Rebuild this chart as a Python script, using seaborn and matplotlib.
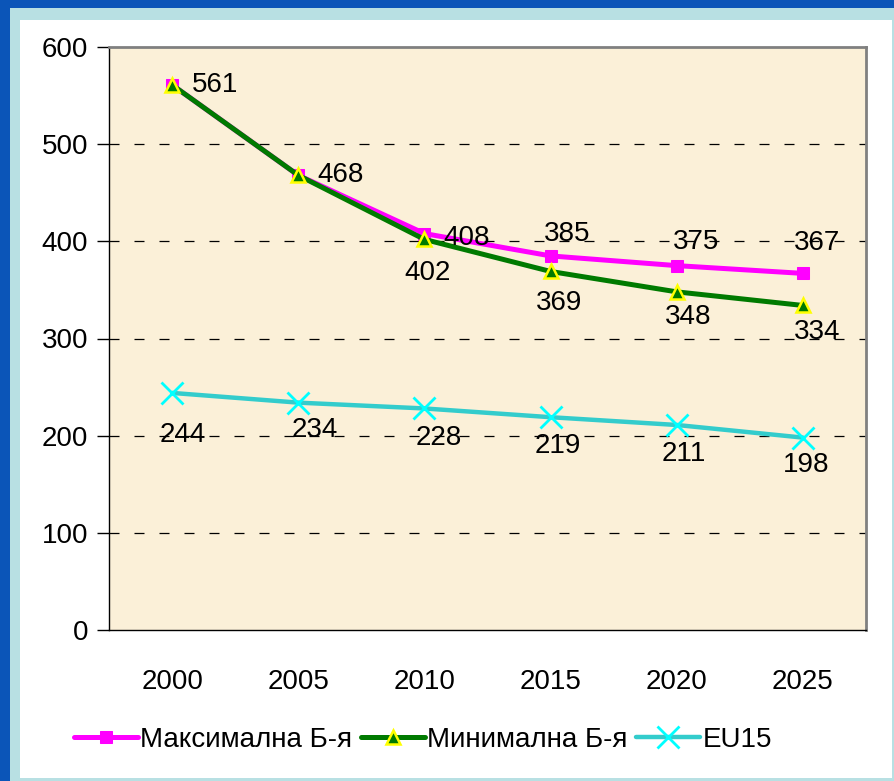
import matplotlib
matplotlib.use("Agg")
import matplotlib.pyplot as plt
import matplotlib.ticker as ticker
from matplotlib.patches import Rectangle
import seaborn as sns
import pandas as pd

# data
years = ["2000", "2005", "2010", "2015", "2020", "2025"]
max_vals = [561, 468, 408, 385, 375, 367]
min_vals = [561, 468, 402, 369, 348, 334]
eu15_vals = [244, 234, 228, 219, 211, 198]
series_names = ["Максимална Б-я", "Минимална Б-я", "EU15"]

sns.set_theme(style="white")
plt.rcParams['font.family'] = ['Liberation Sans', 'DejaVu Sans']
plt.rcParams['text.color'] = 'black'
plt.rcParams['xtick.color'] = 'black'
plt.rcParams['ytick.color'] = 'black'

FS = 20

W, H = 895, 781
fig = plt.figure(figsize=(W / 100, H / 100), dpi=100)
fig.patch.set_facecolor('#0b55b8')
# cyan frame and white panel
fig.add_artist(Rectangle((10 / W, 0), 1 - 10 / W, 1 - 8 / H, transform=fig.transFigure,
                         facecolor='#b8e0e3', edgecolor='none', zorder=0))
fig.add_artist(Rectangle((20 / W, 3 / H), 872 / W, 1 - 23 / H, transform=fig.transFigure,
                         facecolor='white', edgecolor='none', zorder=0))

ax = fig.add_axes([109 / W, 1 - 630 / H, 757 / W, 583 / H])
ax.set_facecolor('#fbf0d8')

df = pd.DataFrame({'Year': years, 'Max': max_vals, 'Min': min_vals, 'EU15': eu15_vals})

sns.lineplot(data=df, x='Year', y='Max', ax=ax, color='#ff00ff', linewidth=3.6,
             marker='s', markersize=9, markeredgecolor='#ff00ff', label=series_names[0],
             sort=False)
sns.lineplot(data=df, x='Year', y='Min', ax=ax, color='#007a00', linewidth=3.6,
             marker='^', markersize=10, markerfacecolor='#007a00', markeredgecolor='#ffff00',
             markeredgewidth=1.8, label=series_names[1], sort=False)
sns.lineplot(data=df, x='Year', y='EU15', ax=ax, color='#33cccc', linewidth=3.2,
             marker='x', markersize=16, markeredgecolor='#00ffff', markeredgewidth=2,
             label=series_names[2], sort=False)

ax.set_xlim(-0.5, len(years) - 0.5)
ax.set_ylim(0, 600)
ax.yaxis.set_major_locator(ticker.MultipleLocator(100))
ax.set_xticks(range(len(years)))
ax.set_xticklabels(years)
ax.set_xticks([i - 0.5 for i in range(len(years) + 1)], minor=True)
ax.tick_params(axis='x', which='major', length=0, pad=28, labelsize=FS, labelcolor='black')
ax.tick_params(axis='x', which='minor', length=9, width=1, color='black', direction='out')
ax.tick_params(axis='y', which='major', length=9, width=1, color='black', direction='out',
               left=True, labelsize=FS, pad=6, labelcolor='black')
ax.set_xlabel("")
ax.set_ylabel("")

for y in range(100, 600, 100):
    ax.axhline(y, color='black', linewidth=0.9, linestyle=(0, (8, 12)), zorder=1)

for side in ['left', 'bottom']:
    ax.spines[side].set_color('black')
    ax.spines[side].set_linewidth(1)
for side in ['top', 'right']:
    ax.spines[side].set_color('#808080')
    ax.spines[side].set_linewidth(2)

# value labels (offsets in points, Excel-like placement)
max_off = [(14, 0), (14, 0), (14, -3), (12, 16), (14, 17), (10, 22)]
min_off = [None, None, (2, -24), (6, -23), (8, -18), (10, -19)]
eu_off = [(8, -30), (12, -20), (10, -21), (5, -21), (5, -21), (2, -20)]
for i, v in enumerate(max_vals):
    dx, dy = max_off[i]
    ax.annotate(str(v), (i, v), xytext=(dx, dy), textcoords='offset points',
                ha='left' if dy == 0 or i == 2 else 'center', va='center', fontsize=FS)
for i, v in enumerate(min_vals):
    if min_off[i] is None:
        continue
    dx, dy = min_off[i]
    ax.annotate(str(v), (i, v), xytext=(dx, dy), textcoords='offset points',
                ha='center', va='center', fontsize=FS)
for i, v in enumerate(eu15_vals):
    dx, dy = eu_off[i]
    ax.annotate(str(v), (i, v), xytext=(dx, dy), textcoords='offset points',
                ha='center', va='center', fontsize=FS)

leg = ax.legend(loc='center', bbox_to_anchor=(423 / W, 1 - 740 / H),
                bbox_transform=fig.transFigure, ncol=3, frameon=False, fontsize=FS,
                handlelength=2.3, handletextpad=0.1, columnspacing=0.3)

fig.savefig("out.png", dpi=100, facecolor=fig.get_facecolor())
